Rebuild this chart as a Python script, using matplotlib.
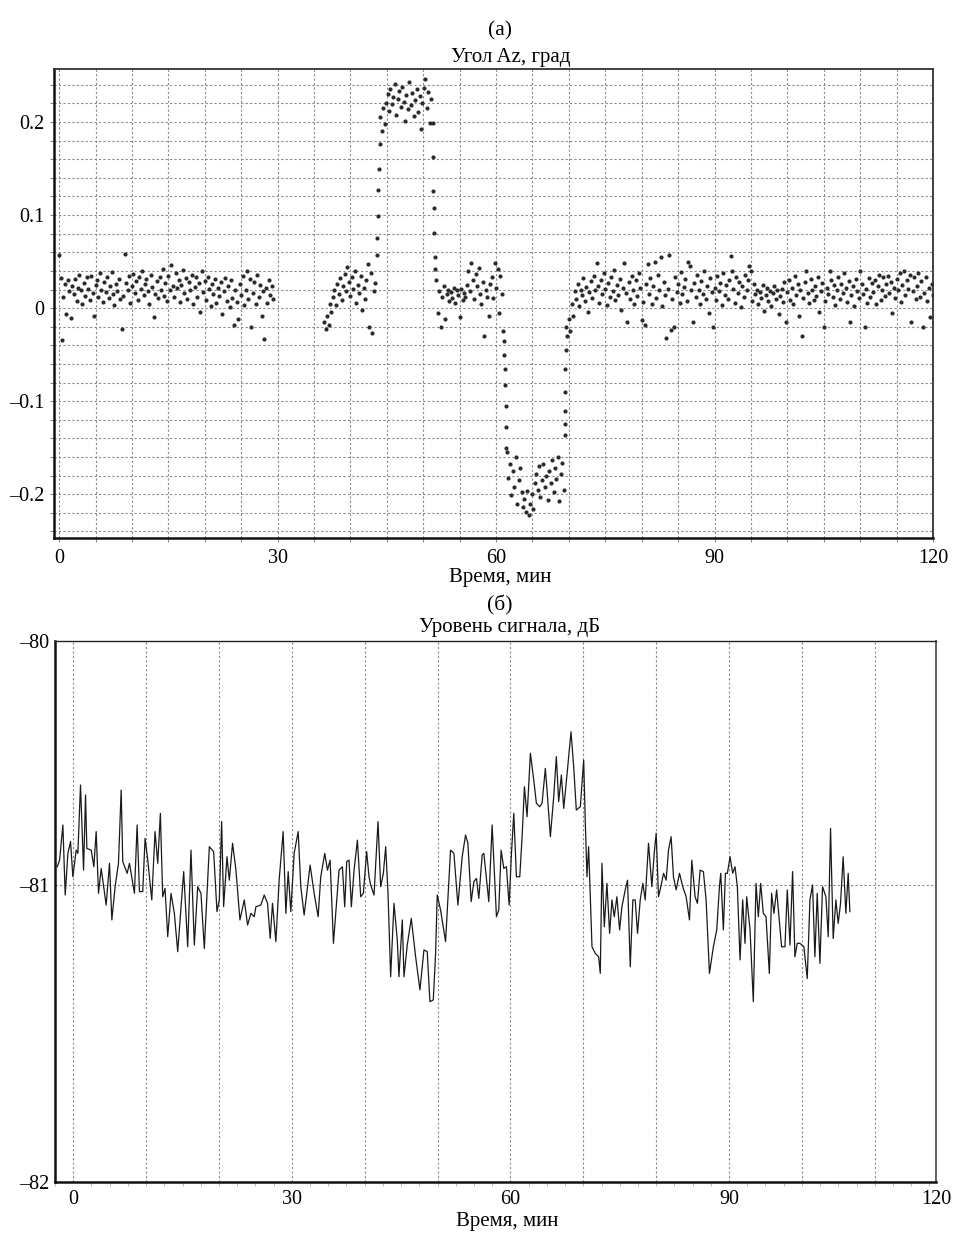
import numpy as np
import matplotlib
matplotlib.use("Agg")
import matplotlib.pyplot as plt

plt.rcParams['font.family'] = ['Liberation Serif', 'DejaVu Serif']

# ---------------- data: panel (а) azimuth angle, deg ----------------
# each segment: (t_start, t_end) in minutes + evenly sampled values
az_span_1 = (0.0, 29.4)
az_vals_1 = [0.057, 0.032, -0.034, 0.012, 0.026, -0.006, 0.030, 0.018, -0.011, 0.024,
             0.015, 0.031, 0.008, 0.022, 0.036, 0.019, 0.004, 0.027, 0.013, 0.033,
             0.021, 0.009, 0.035, 0.016, -0.008, 0.025, 0.030, 0.012, 0.038, 0.020,
             0.007, 0.028, 0.017, 0.034, 0.011, 0.024, 0.039, 0.015, 0.003, 0.026,
             0.018, 0.031, 0.010, -0.022, 0.013, 0.058, 0.027, 0.019, 0.035, 0.006,
             0.024, 0.037, 0.016, 0.029, 0.009, 0.033, 0.021, 0.040, 0.014, 0.026,
             0.031, 0.018, 0.005, 0.036, 0.023, -0.010, 0.015, 0.029, 0.011, 0.034,
             0.020, 0.042, 0.013, 0.027, 0.008, 0.035, 0.019, 0.046, 0.024, 0.012,
             0.038, 0.022, 0.030, 0.007, 0.025, 0.041, 0.016, 0.032, 0.010, 0.028,
             0.019, 0.036, 0.004, 0.023, 0.033, 0.012, 0.027, -0.004, 0.040, 0.017,
             0.029, 0.009, 0.034, 0.021, 0.002, 0.026, 0.015, 0.031, 0.006, 0.022,
             0.013, 0.028, -0.006, 0.018, 0.032, 0.008, 0.024, 0.001, 0.030, 0.011,
             -0.018, 0.020, 0.007, -0.012, 0.026, 0.014, 0.035, 0.003, 0.019, 0.040,
             0.010, 0.031, -0.020, 0.016, 0.028, 0.004, 0.036, 0.012, 0.025, -0.008,
             0.018, -0.033, 0.022, 0.006, 0.030, 0.014, 0.024, 0.010]

az_span_2 = (36.4, 43.4)
az_vals_2 = [-0.015, -0.022, -0.008, -0.018, 0.005, -0.004, 0.012, 0.020, 0.003, 0.026,
             0.015, 0.032, 0.009, 0.024, 0.037, 0.018, 0.044, 0.028, 0.013, 0.034,
             0.021, 0.040, 0.006, 0.025, 0.016, 0.035, -0.002, 0.022, 0.010, 0.030,
             0.047, -0.020, 0.038, -0.027, 0.018, 0.027]

az_span_3 = (43.6, 44.0)
az_vals_3 = [0.057, 0.075, 0.099, 0.127, 0.150, 0.176]

az_span_4 = (44.1, 51.1)
az_vals_4 = [0.205, 0.190, 0.215, 0.198, 0.221,
             0.230, 0.212, 0.236, 0.219, 0.227, 0.241, 0.208, 0.225, 0.233, 0.216,
             0.238, 0.222, 0.201, 0.229, 0.214, 0.243, 0.218, 0.231, 0.206, 0.224,
             0.236, 0.211, 0.228, 0.192, 0.220, 0.237, 0.246, 0.215, 0.232, 0.199,
             0.225]

az_span_5 = (51.3, 51.6)
az_vals_5 = [0.199, 0.162, 0.126, 0.108, 0.081, 0.055, 0.042]

az_span_6 = (51.8, 61.0)
az_vals_6 = [0.030, -0.005, 0.018, -0.020, 0.012, 0.024, -0.012, 0.015, 0.020, 0.008,
             0.017, 0.011, 0.022, 0.006, 0.019, 0.014, -0.010, 0.021, 0.009, 0.016,
             0.012, 0.025, 0.040, 0.018, 0.048, 0.030, 0.010, 0.037, 0.024, 0.043,
             0.015, 0.005, 0.028, -0.030, 0.020, 0.012, -0.008, 0.026, 0.033, 0.011,
             0.048, 0.022, 0.042, -0.005, 0.035, 0.015, -0.025]

az_span_7 = (61.1, 61.4)
az_vals_7 = [-0.035, -0.050, -0.065, -0.083, -0.105, -0.128, -0.150]

az_span_8 = (61.5, 69.3)
az_vals_8 = [-0.155, -0.182, -0.168, -0.201, -0.175, -0.192, -0.160, -0.210, -0.185, -0.172,
             -0.198, -0.214, -0.205, -0.219, -0.196, -0.222, -0.210, -0.200, -0.216, -0.188,
             -0.178, -0.195, -0.170, -0.203, -0.185, -0.167, -0.192, -0.180, -0.206, -0.175,
             -0.188, -0.163, -0.198, -0.172, -0.184, -0.160, -0.207, -0.178, -0.166, -0.195]

az_span_9 = (69.4, 69.6)
az_vals_9 = [-0.136, -0.124, -0.110, -0.090, -0.065, -0.045, -0.020]

az_span_10 = (69.8, 120.0)
az_vals_10 = [-0.030, -0.012, -0.025, 0.005, -0.008, 0.018, 0.010, 0.026, 0.002, 0.020,
              0.014, 0.032, 0.008, 0.023, -0.004, 0.017, 0.029, 0.011, 0.035, 0.019,
              0.048, 0.024, 0.006, 0.030, 0.015, 0.038, 0.021, 0.003, 0.027, 0.012,
              0.033, 0.018, 0.041, 0.009, 0.025, 0.014, 0.031, -0.002, 0.022, 0.048,
              0.016, -0.015, 0.028, 0.010, 0.035, 0.020, 0.004, 0.030, 0.013, 0.038,
              0.022, -0.013, 0.007, -0.018, 0.026, 0.047, 0.015, 0.032, 0.005, 0.024,
              0.050, 0.011, 0.036, 0.019, 0.055, 0.002, 0.028, 0.014, -0.032, 0.021,
              0.057, -0.024, 0.010, -0.020, 0.033, 0.017, 0.026, 0.006, 0.039, 0.015,
              0.023, 0.031, 0.008, 0.050, 0.045, 0.019, -0.015, 0.027, 0.012, 0.036,
              0.020, 0.004, 0.029, 0.015, 0.040, 0.010, 0.024, -0.005, 0.032, 0.017,
              -0.020, 0.022, 0.009, 0.035, 0.018, 0.027, 0.003, 0.038, 0.014, 0.025,
              0.010, 0.030, 0.056, 0.040, 0.021, 0.006, 0.033, 0.016, 0.028, 0.001,
              0.024, 0.012, 0.036, 0.019, 0.030, 0.045, 0.040, 0.008, 0.026, 0.015,
              0.020, 0.005, 0.017, 0.011, 0.025, -0.003, 0.014, 0.022, 0.008, 0.018,
              0.002, 0.016, 0.024, 0.010, 0.019, -0.006, 0.013, 0.021, 0.007, 0.028,
              -0.015, 0.017, 0.030, 0.009, 0.022, 0.004, 0.035, 0.014, 0.026, -0.008,
              0.019, -0.030, 0.011, 0.028, 0.040, 0.016, 0.006, 0.031, 0.020, 0.009,
              0.024, 0.013, 0.034, -0.004, 0.018, 0.027, -0.020, 0.008, 0.022, 0.015,
              0.040, 0.030, 0.012, 0.025, 0.003, 0.020, 0.033, 0.010, 0.026, 0.016,
              0.038, 0.022, 0.007, 0.029, -0.015, 0.014, 0.024, 0.002, 0.031, 0.018,
              0.011, 0.040, 0.026, 0.015, -0.020, 0.021, 0.006, 0.032, 0.012, 0.027,
              0.017, 0.030, 0.004, 0.024, 0.036, 0.009, 0.020, 0.033, 0.013, 0.026,
              0.035, 0.016, 0.028, -0.005, 0.022, 0.011, 0.031, 0.019, 0.038, 0.007,
              0.025, 0.040, 0.014, 0.030, 0.021, 0.036, -0.015, 0.018, 0.033, 0.010,
              0.024, 0.038, 0.012, 0.029, -0.020, 0.016, 0.034, 0.008, 0.022, -0.010,
              0.026, 0.014]

az_segments = [(az_span_1, az_vals_1), (az_span_2, az_vals_2), (az_span_3, az_vals_3),
               (az_span_4, az_vals_4), (az_span_5, az_vals_5), (az_span_6, az_vals_6),
               (az_span_7, az_vals_7), (az_span_8, az_vals_8), (az_span_9, az_vals_9),
               (az_span_10, az_vals_10)]

# ---------------- data: panel (б) signal level, dB ----------------
sig_t = [-2.19, -1.87, -1.42, -1.10, -0.73, -0.37, -0.05, 0.41, 0.64, 1.00, 1.42, 1.69, 1.87,
         2.47, 2.83, 3.15, 3.47, 3.84, 4.52, 4.98, 5.30, 5.75, 6.21, 6.58, 6.80, 7.40, 7.72,
         8.40, 8.77, 9.09, 9.54, 9.86, 10.23, 10.78, 11.23, 11.60, 11.96, 12.28, 12.60, 12.97,
         13.42, 13.88, 14.34, 15.16, 15.71, 16.16, 16.62, 17.08, 17.53, 17.99, 18.68, 19.27,
         19.73, 20.05, 20.37, 20.64, 21.10, 21.42, 21.87, 22.33, 22.88, 23.47, 23.93, 24.38,
         24.84, 25.07, 25.75, 26.21, 26.67, 27.03, 27.35, 27.81, 28.26, 28.81, 29.18, 29.50,
         29.86, 30.32, 30.87, 31.23, 31.69, 32.51, 33.06, 33.61, 33.97, 34.52, 34.89, 35.25,
         35.71, 36.16, 36.48, 36.94, 37.26, 37.53, 37.85, 38.17, 38.54, 39.00, 39.45, 39.82,
         40.27, 40.59, 40.82, 41.28, 41.83, 42.19, 42.56, 42.88, 43.20, 43.56, 44.02, 44.47,
         44.70, 45.16, 45.39, 45.84, 46.39, 46.99, 47.58, 48.13, 48.58, 48.95, 49.41, 49.73,
         49.95, 50.41, 51.10,
         51.78, 52.24, 52.79, 53.38, 53.84, 54.16, 54.61, 54.98, 55.34, 55.66, 56.12, 56.35,
         57.03, 57.49, 58.08, 58.40, 58.72, 59.09, 59.45, 59.82, 60.14, 60.46, 60.82, 61.28,
         61.60, 61.92, 62.28, 62.74, 63.20, 63.56, 64.02, 64.34, 64.79, 65.02, 65.48, 65.94,
         66.30, 66.62, 66.99, 67.31, 67.76, 68.31, 68.68, 69.04, 69.59, 70.05, 70.27, 70.50,
         70.73, 71.19, 71.64, 72.10, 72.33, 72.56, 72.88, 73.24, 73.61, 73.93, 74.25, 74.61,
         74.98, 75.30, 75.75, 76.07, 76.44, 76.80, 77.12, 77.44, 77.81, 78.17, 78.49, 78.95,
         79.41, 79.73, 80.00, 80.32, 80.64, 81.01, 81.37, 81.69, 82.05, 82.37, 82.74, 83.20,
         83.65, 84.11, 84.57, 84.89, 85.34, 85.66, 86.03, 86.48, 86.85, 87.31, 87.85, 88.31,
         88.68, 88.86, 89.22, 89.50, 89.77, 90.14, 90.50, 90.82, 91.14, 91.51, 91.87, 92.19,
         92.42, 92.88, 93.33, 93.70, 94.02, 94.34, 94.70, 95.07, 95.53, 95.84, 96.16, 96.53,
         96.89, 97.21, 97.67, 97.99, 98.36, 98.72, 99.04, 99.36, 99.73, 100.27, 100.73, 101.10,
         101.46, 101.78, 102.10, 102.47, 102.83, 103.29, 103.61, 103.93, 104.29, 104.66,
         104.98, 105.30, 105.66, 106.03, 106.35, 106.58]
sig_db = [-80.925, -80.898, -80.754, -81.041, -80.870, -80.822, -80.966, -80.857, -80.870,
          -80.590, -80.939, -80.631, -80.850, -80.857, -80.925, -80.781, -81.034, -80.932,
          -81.082, -80.911, -81.143, -81.007, -80.911, -80.611, -80.904, -80.952, -80.911,
          -81.034, -80.754, -81.027, -81.027, -80.809, -80.898, -81.061, -80.781, -80.911,
          -80.706, -81.048, -81.014, -81.212, -81.034, -81.116, -81.273, -80.945, -81.253,
          -80.857, -81.246, -81.007, -81.034, -81.260, -80.843, -80.863, -81.109, -81.061,
          -80.740, -81.089, -80.884, -80.980, -80.829, -80.939, -81.143, -81.061, -81.164,
          -81.116, -81.130, -81.089, -81.082, -81.041, -81.075, -81.219, -81.075, -81.232,
          -80.980, -80.781, -81.116, -80.945, -81.109, -80.870, -80.781, -81.007, -81.123,
          -80.918, -81.034, -81.130, -80.966, -80.870, -80.939, -80.898, -81.239, -81.061,
          -80.939, -80.925, -81.089, -80.904, -80.898, -81.089, -80.939, -80.816, -81.048,
          -81.034, -80.863, -80.966, -81.000, -81.041, -80.740, -81.007, -80.952, -80.843,
          -81.034, -81.376, -81.075, -81.225, -81.376, -81.143, -81.376, -81.246, -81.137,
          -81.294, -81.430, -81.266, -81.273, -81.478, -81.471, -81.280, -81.041, -81.102,
          -81.232,
          -80.857, -80.870, -81.082, -80.884, -80.795, -80.829, -81.068, -80.986, -80.973,
          -81.055, -80.877, -80.870, -81.068, -80.754, -81.130, -81.102, -80.857, -80.932,
          -80.925, -81.082, -80.870, -80.706, -80.966, -80.966, -80.802, -80.597, -80.720,
          -80.460, -80.570, -80.665, -80.679, -80.665, -80.522, -80.611, -80.802, -80.638,
          -80.474, -80.658, -80.549, -80.686, -80.549, -80.372, -80.515, -80.693, -80.679,
          -80.488, -80.740, -80.966, -80.843, -81.253, -81.280, -81.294, -81.362, -80.911,
          -81.171, -80.993, -81.198, -81.061, -81.130, -81.048, -81.184, -81.089, -81.020,
          -80.980, -81.335, -81.061, -81.061, -81.198, -81.061, -80.993, -81.061, -80.829,
          -81.007, -80.870, -80.788, -81.048, -81.007, -80.952, -80.980, -80.857, -80.802,
          -80.966, -81.020, -80.952, -81.007, -81.048, -81.143, -80.898, -81.048, -81.075,
          -80.939, -80.945, -81.061, -81.362, -81.253, -81.184, -81.007, -80.952, -81.184,
          -80.952, -80.952, -80.884, -80.952, -80.925, -81.007, -81.307, -81.061, -81.239,
          -81.048, -81.184, -81.478, -80.993, -81.130, -80.993, -81.116, -81.130, -81.362,
          -81.034, -81.116, -81.020, -81.143, -81.253, -81.253, -81.020, -81.246, -80.945,
          -81.294, -81.239, -81.239, -81.253, -81.383, -81.061, -81.000, -81.294, -81.034,
          -81.321, -81.007, -81.048, -81.212, -80.768, -81.219, -81.061, -81.157, -81.075,
          -80.884, -81.116, -80.952, -81.109]

# tick labels
az_xtick_labels = ['0', '30', '60', '90', '120']
az_ytick_labels = ['0.2', '0.1', '0', '\u20130.1', '\u20130.2']
sig_xtick_labels = ['0', '30', '60', '90', '120']
sig_ytick_labels = ['\u201380', '\u201381', '\u201382']

# ---------------- figure ----------------
W, H = 975, 1245
fig = plt.figure(figsize=(W / 100, H / 100), dpi=100)


def fx(px):
    return px / W


def fy(py):
    return 1 - py / H


GRID_KW = dict(color='#8a8a8a', linewidth=0.8, linestyle=(0, (2, 2)))

# ---- panel (а) ----
ax1 = fig.add_axes([fx(54), fy(538), fx(933) - fx(54), fy(69) - fy(538)])
for (t0, t1), vals in az_segments:
    tt = np.linspace(t0, t1, len(vals))
    ax1.scatter(tt, vals, s=9, marker='o', color='#2b2b2b', linewidths=0, zorder=3)

ax1.set_xlim(-0.7, 120.0)
ax1.set_ylim(-0.247, 0.257)
xt = np.arange(0, 121, 5)
ax1.set_xticks(xt)
ax1.set_xticklabels([az_xtick_labels[int(v // 30)] if v % 30 == 0 else '' for v in xt])
yt = np.round(np.arange(-0.24, 0.2401, 0.02), 2)
ax1.set_yticks(yt)
ylab_map = {0.2: az_ytick_labels[0], 0.1: az_ytick_labels[1], 0.0: az_ytick_labels[2],
            -0.1: az_ytick_labels[3], -0.2: az_ytick_labels[4]}
ax1.set_yticklabels([ylab_map.get(float(v), '') for v in yt])
ax1.grid(True, **GRID_KW)
ax1.set_axisbelow(True)
ax1.tick_params(axis='both', length=3, width=0.8, color='#8a8a8a', labelsize=14.5, pad=4)
ax1.tick_params(axis='x', pad=5)
for s in ('left', 'bottom'):
    ax1.spines[s].set_linewidth(1.8)
    ax1.spines[s].set_color('#111111')
for s in ('top', 'right'):
    ax1.spines[s].set_linewidth(1.3)
    ax1.spines[s].set_color('#333333')

fig.text(fx(500), fy(35), '(а)', ha='center', va='baseline', fontsize=15.5)
fig.text(fx(511), fy(62), 'Угол Az, град', ha='center', va='baseline', fontsize=15)
fig.text(fx(500), fy(582), 'Время, мин', ha='center', va='baseline', fontsize=15)

# ---- panel (б) ----
ax2 = fig.add_axes([fx(55), fy(1182), fx(936) - fx(55), fy(641) - fy(1182)])
ax2.plot(sig_t, sig_db, color='#1a1a1a', linewidth=0.9, zorder=3)
x_right = 118.4
y_bottom = -82.217
ax2.set_xlim(-2.3, x_right)
ax2.set_ylim(y_bottom, -80.0)
ax2.set_xticks([0, 30, 60, 90, x_right])
ax2.set_xticklabels(sig_xtick_labels)
ax2.set_xticks(np.arange(-2.5, 118, 2.5), minor=True)
ax2.set_yticks([-80.0, -81.0, y_bottom])
ax2.set_yticklabels(sig_ytick_labels)
for v in np.arange(0, 111, 10):
    ax2.axvline(v, zorder=1, **GRID_KW)
ax2.axhline(-81.0, zorder=1, **GRID_KW)
ax2.tick_params(axis='both', which='major', length=0, labelsize=14.5, pad=4)
ax2.tick_params(axis='x', which='major', pad=6)
ax2.tick_params(axis='x', which='minor', length=3, width=0.8, color='#bbbbbb')
for s in ('left', 'bottom'):
    ax2.spines[s].set_linewidth(1.8)
    ax2.spines[s].set_color('#111111')
ax2.spines['top'].set_linewidth(1.0)
ax2.spines['top'].set_color('#222222')
ax2.spines['right'].set_linewidth(1.2)
ax2.spines['right'].set_color('#444444')

fig.text(fx(500), fy(610), '(б)', ha='center', va='baseline', fontsize=15.5)
fig.text(fx(510), fy(632), 'Уровень сигнала, дБ', ha='center', va='baseline', fontsize=15)
fig.text(fx(507), fy(1226), 'Время, мин', ha='center', va='baseline', fontsize=15)

fig.savefig('out.png', dpi=100, facecolor='white')
